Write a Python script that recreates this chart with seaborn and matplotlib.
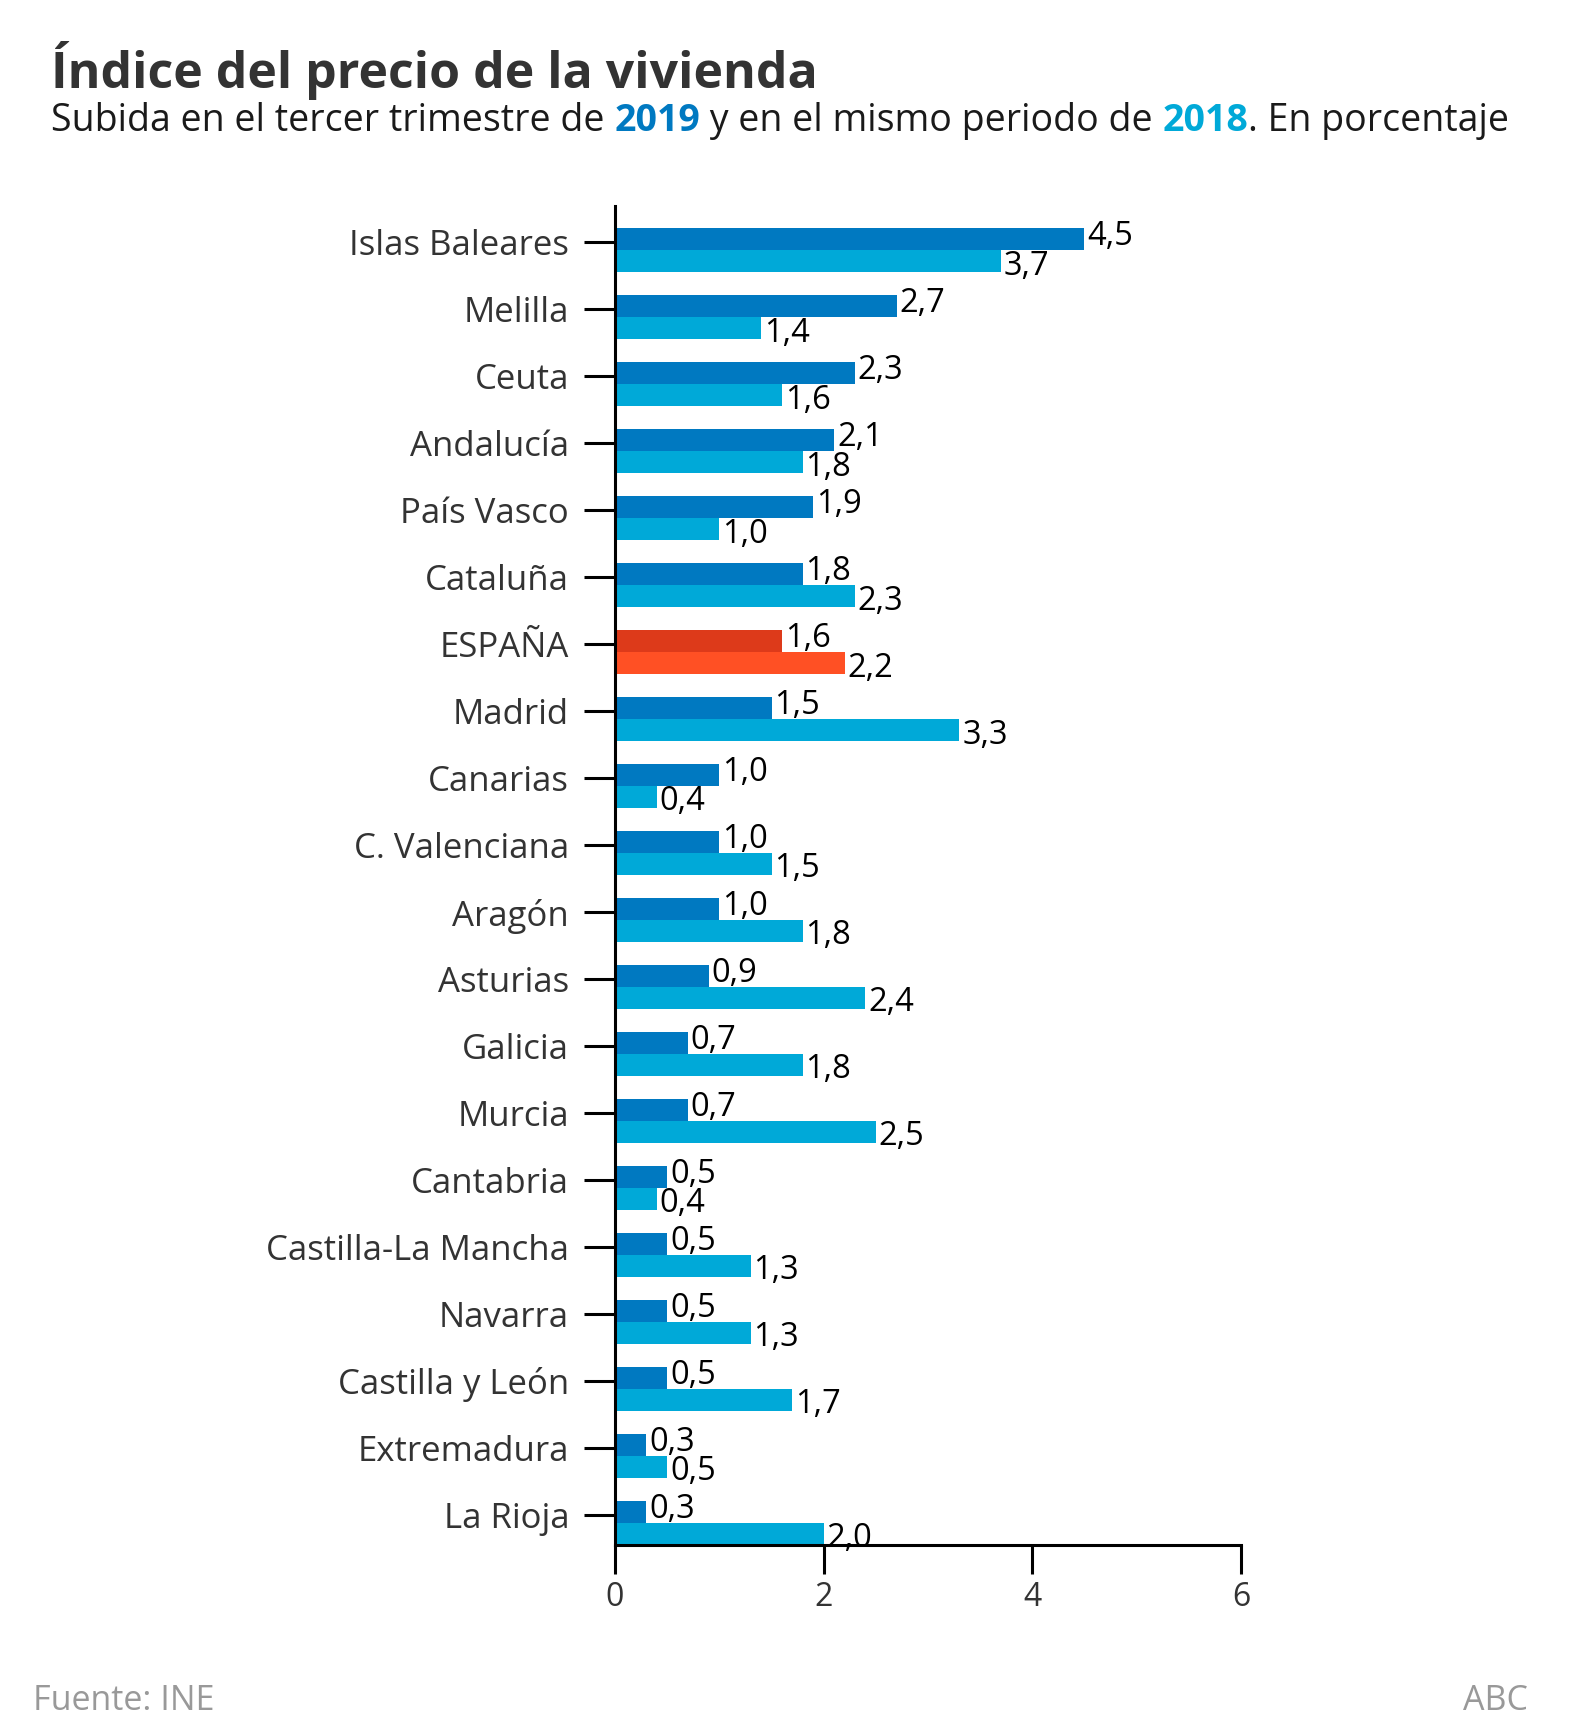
import pandas as pd
import numpy as np
import matplotlib.pyplot as plt
import seaborn as sns

# %% datos
regiones = ['Islas Baleares', 'Melilla', 'Ceuta', 'Andalucía', 'País Vasco', 'Cataluña',
            'ESPAÑA', 'Madrid', 'Canarias', 'C. Valenciana', 'Aragón', 'Asturias',
            'Galicia', 'Murcia', 'Cantabria', 'Castilla-La Mancha', 'Navarra',
            'Castilla y León', 'Extremadura', 'La Rioja']
v2019 = [4.5, 2.7, 2.3, 2.1, 1.9, 1.8, 1.6, 1.5, 1.0, 1.0, 1.0, 0.9, 0.7, 0.7, 0.5, 0.5, 0.5, 0.5, 0.3, 0.3]
v2018 = [3.7, 1.4, 1.6, 1.8, 1.0, 2.3, 2.2, 3.3, 0.4, 1.5, 1.8, 2.4, 1.8, 2.5, 0.4, 1.3, 1.3, 1.7, 0.5, 2.0]
anios = ['2019', '2018']
xticks = [0, 2, 4, 6]

azul = '#0079C1'
celeste = '#00A9D8'
rojo = '#DD3A1A'
naranja = '#FF5024'

n = len(regiones)
df = pd.DataFrame({'Región': regiones * 2,
                   'Valor': v2019 + v2018,
                   'Año': [anios[0]] * n + [anios[1]] * n})

# %% figura
sns.set_style('white')
plt.rcParams['font.family'] = ['Open Sans', 'DejaVu Sans']

W, H = 1593, 1718
fig = plt.figure(figsize=(W / 100, H / 100), dpi=100)
ax = fig.add_axes([615 / W, 1 - 1545 / H, (1241 - 615) / W, (1545 - 206) / H])

sns.barplot(data=df, y='Región', x='Valor', hue='Año', order=regiones, hue_order=anios,
            palette={anios[0]: azul, anios[1]: celeste}, orient='h', width=0.66,
            saturation=1, errorbar=None, legend=False, linewidth=0, ax=ax)

# España en rojo
i_esp = regiones.index('ESPAÑA')
ax.containers[0][i_esp].set_facecolor(rojo)
ax.containers[1][i_esp].set_facecolor(naranja)

# etiquetas de valor: 2019 un poco arriba, 2018 un poco abajo
for cont, vals, dy in zip(ax.containers, [v2019, v2018], [2, -3.5]):
    anns = ax.bar_label(cont, labels=[f'{v:.1f}'.replace('.', ',') for v in vals],
                        padding=2, fontsize=23.5, color='black')
    for a in anns:
        a.xyann = (2, dy)

ax.set_xlim(0, 6)
ax.set_xticks(xticks)
ax.set_ylim(n - 1 + 0.33, -0.66)
ax.set_yticks(np.arange(n) - 0.12, regiones)
ax.set_xlabel('')
ax.set_ylabel('')

for s in ['top', 'right']:
    ax.spines[s].set_visible(False)
for s in ['left', 'bottom']:
    ax.spines[s].set_color('black')
    ax.spines[s].set_linewidth(2.2)

ax.tick_params(axis='y', length=22, width=2.2, pad=11, labelsize=25, labelcolor='#333333', color='black', left=True)
ax.tick_params(axis='x', length=21, width=2.2, pad=5, labelsize=23, labelcolor='#333333', color='black', bottom=True)

# %% textos
fig.text(51 / W, 1 - 88 / H, 'Índice del precio de la vivienda', fontsize=36, weight='bold',
         color='#333333', va='baseline')

fig.canvas.draw()
r = fig.canvas.get_renderer()


def ancho(txt, **kw):
    t1 = fig.text(0, 0, txt + '|', **kw)
    t2 = fig.text(0, 0, '|', **kw)
    w = t1.get_window_extent(r).width - t2.get_window_extent(r).width
    t1.remove()
    t2.remove()
    return w


partes = [('Subida en el tercer trimestre de ', '#1a1a1a', 'normal'),
          ('2019', azul, 'bold'),
          (' y en el mismo periodo de ', '#1a1a1a', 'normal'),
          ('2018', celeste, 'bold'),
          ('. En porcentaje', '#1a1a1a', 'normal')]
x = 51.0
for txt, col, wt in partes:
    kw = dict(fontsize=27, color=col, weight=wt, va='baseline')
    fig.text(x / W, 1 - 131 / H, txt, **kw)
    x += ancho(txt, **kw)

fig.text(33 / W, 1 - 1710 / H, 'Fuente: INE', fontsize=24.5, color='#999999', va='baseline')
fig.text(1528 / W, 1 - 1710 / H, 'ABC', fontsize=24.5, color='#999999', va='baseline', ha='right')

fig.savefig('out.png', dpi=100, facecolor='white')
